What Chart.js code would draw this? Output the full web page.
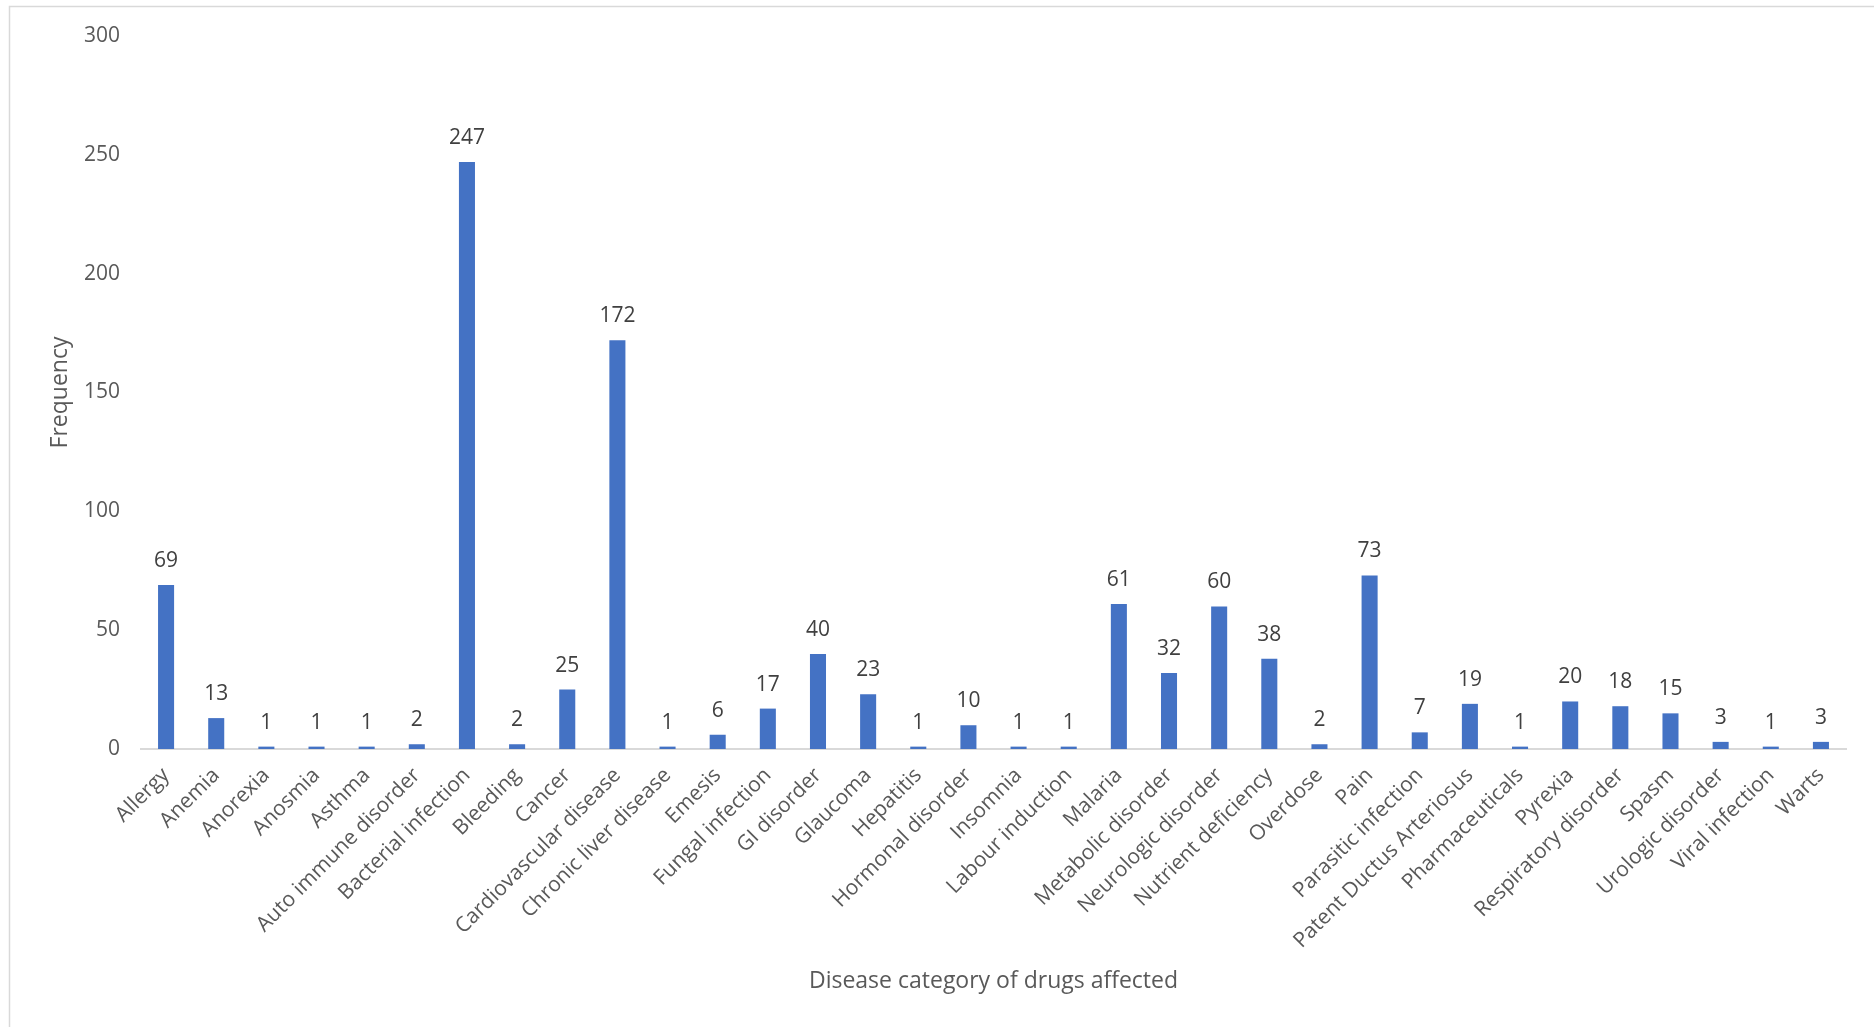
<!DOCTYPE html>
<html>
<head>
<meta charset="utf-8">
<script src="https://cdn.jsdelivr.net/npm/chart.js@4.4.1/dist/chart.umd.min.js"></script>
<style>
  html, body { margin: 0; padding: 0; background: #ffffff; }
  #wrap { position: absolute; left: 0; top: 0; width: 1874px; height: 1027px; }
</style>
</head>
<body>
<div id="wrap"><canvas id="c" width="1874" height="1027"></canvas></div>
<script>
const categories = [
  "Allergy", "Anemia", "Anorexia", "Anosmia", "Asthma", "Auto immune disorder",
  "Bacterial infection", "Bleeding", "Cancer", "Cardiovascular disease",
  "Chronic liver disease", "Emesis", "Fungal infection", "GI disorder", "Glaucoma",
  "Hepatitis", "Hormonal disorder", "Insomnia", "Labour induction", "Malaria",
  "Metabolic disorder", "Neurologic disorder", "Nutrient deficiency", "Overdose",
  "Pain", "Parasitic infection", "Patent Ductus Arteriosus", "Pharmaceuticals",
  "Pyrexia", "Respiratory disorder", "Spasm", "Urologic disorder", "Viral infection", "Warts"
];
const frequency = [
  69, 13, 1, 1, 1, 2,
  247, 2, 25, 172,
  1, 6, 17, 40, 23,
  1, 10, 1, 1, 61,
  32, 60, 38, 2,
  73, 7, 19, 1,
  20, 18, 15, 3, 1, 3
];
const yTicks = [0, 50, 100, 150, 200, 250, 300];
const xTitle = "Disease category of drugs affected";
const yTitle = "Frequency";

const FONT = "'Open Sans', 'Liberation Sans', sans-serif";

const frameAndLabels = {
  id: 'frameAndLabels',
  beforeDraw(chart) {
    const ctx = chart.ctx;
    ctx.save();
    ctx.strokeStyle = '#d9d9d9';
    ctx.lineWidth = 1.5;
    ctx.beginPath();
    ctx.moveTo(9.5, 1027);
    ctx.lineTo(9.5, 6.5);
    ctx.lineTo(1874, 6.5);
    ctx.stroke();
    ctx.restore();
  },
  afterDatasetsDraw(chart) {
    const ctx = chart.ctx;
    const meta = chart.getDatasetMeta(0);
    ctx.save();
    ctx.font = "21px " + FONT;
    ctx.fillStyle = '#404040';
    ctx.textAlign = 'center';
    ctx.textBaseline = 'middle';
    meta.data.forEach((bar, i) => {
      const v = chart.data.datasets[0].data[i];
      ctx.fillText(String(v), bar.x, bar.y - 24);
    });
    ctx.restore();
  }
};

new Chart(document.getElementById('c'), {
  type: 'bar',
  data: {
    labels: categories,
    datasets: [{
      label: yTitle,
      data: frequency,
      backgroundColor: '#4472c4',
      borderWidth: 0,
      barPercentage: 0.32,
      categoryPercentage: 1.0
    }]
  },
  options: {
    responsive: false,
    animation: false,
    devicePixelRatio: 1,
    layout: { padding: { left: 43, right: 28, top: 36, bottom: 28 } },
    plugins: {
      legend: { display: false },
      tooltip: { enabled: false }
    },
    scales: {
      x: {
        grid: { display: false, drawTicks: false },
        border: { display: true, color: '#d9d9d9', width: 2 },
        ticks: {
          autoSkip: false,
          maxRotation: 45,
          minRotation: 45,
          padding: 14,
          color: '#595959',
          font: { family: FONT, size: 21 }
        },
        title: {
          display: true,
          text: xTitle,
          color: '#595959',
          font: { family: FONT, size: 23 },
          padding: { top: 4, bottom: 4 }
        },
        afterFit(scale) { scale.height = 1027 - 28 - 749; }
      },
      y: {
        min: 0,
        max: 300,
        afterBuildTicks(scale) { scale.ticks = yTicks.map(v => ({ value: v })); },
        grid: { display: false, drawTicks: false },
        border: { display: false },
        ticks: {
          padding: 21,
          color: '#595959',
          font: { family: FONT, size: 21 }
        },
        title: {
          display: true,
          text: yTitle,
          color: '#595959',
          font: { family: FONT, size: 23 },
          padding: { top: 4, bottom: 4 }
        },
        afterFit(scale) { scale.width = 98; }
      }
    }
  },
  plugins: [frameAndLabels]
});
</script>
</body>
</html>
